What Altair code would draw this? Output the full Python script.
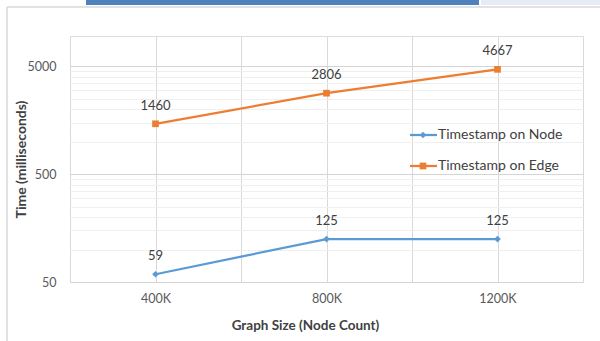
import altair as alt
import pandas as pd

categories = ["400K", "800K", "1200K"]
series_names = ["Timestamp on Node", "Timestamp on Edge"]
node_times = [59, 125, 125]
edge_times = [1460, 2806, 4667]
series_colors = ["#5B9BD5", "#ED7D31"]
series_shapes = ["diamond", "square"]
y_labels = [50, 500, 5000]
y_grid = [50, 100, 150, 200, 250, 300, 350, 400, 450,
          500, 1000, 1500, 2000, 2500, 3000, 3500, 4000, 4500,
          5000]
x_grid = [-0.5, 0, 0.5, 1, 1.5, 2, 2.5]

FONT = "Lato"

rows = []
for name, vals in zip(series_names, [node_times, edge_times]):
    for i, (c, v) in enumerate(zip(categories, vals)):
        rows.append({"category": c, "idx": i, "series": name, "time": v})
df = pd.DataFrame(rows)

label_expr = " : ".join(
    [f"datum.value == {i} ? '{c}'" for i, c in enumerate(categories)]) + " : ''"
major_test = " || ".join([f"datum.value == {v}" for v in y_labels])

x_enc = alt.X(
    "idx:Q",
    scale=alt.Scale(domain=[-0.5, 2.5], nice=False, zero=False),
    axis=alt.Axis(
        values=x_grid, labelExpr=label_expr, title="Graph Size (Node Count)",
        ticks=False, domain=False, grid=True, gridColor="#d9d9d9",
        labelFont=FONT, labelFontSize=12.5, labelColor="#595959", labelPadding=10,
        titleFont=FONT, titleFontSize=13.5, titleFontWeight="bold",
        titleColor="#404040", titlePadding=14, titleX=235, titleAlign="center",
    ),
)
y_enc = alt.Y(
    "time:Q",
    scale=alt.Scale(type="log", domain=[50, 9500], nice=False),
    axis=alt.Axis(
        values=y_grid,
        labelExpr=f"({major_test}) ? datum.value : ''",
        title="Time (milliseconds)", ticks=False, domain=False, grid=True,
        gridColor={"condition": {"test": major_test, "value": "#d4d4d4"},
                   "value": "#efefef"},
        labelFont=FONT, labelFontSize=12.5, labelColor="#595959", labelPadding=14,
        titleFont=FONT, titleFontSize=14, titleFontWeight="bold",
        titleColor="#404040", titleX=-49, titleY=123, titleAlign="center",
        titleBaseline="middle", titleAngle=270,
    ),
)
color_enc = alt.Color("series:N", scale=alt.Scale(domain=series_names, range=series_colors), legend=None)
shape_enc = alt.Shape("series:N", scale=alt.Scale(domain=series_names, range=series_shapes), legend=None)

base = alt.Chart(df)
lines = base.mark_line(strokeWidth=2.25).encode(x=x_enc, y=y_enc, color=color_enc, detail="series:N")
points = base.mark_point(filled=True, size=45, opacity=1).encode(x="idx:Q", y="time:Q", color=color_enc, shape=shape_enc)
labels = base.mark_text(dy=-18, font=FONT, fontSize=13, color="#404040").encode(
    x="idx:Q", y="time:Q", text="time:Q")

layers = [lines, points, labels]

# legend
for i, (name, col, shp) in enumerate(zip(series_names, series_colors, series_shapes)):
    ld = alt.Chart(pd.DataFrame({"series": [name]}))
    yv = 99 + 31 * i
    layers.append(ld.mark_rule(color=col, strokeWidth=2.25).encode(
        x=alt.value(340), x2=alt.value(367), y=alt.value(yv)))
    layers.append(ld.mark_point(filled=True, size=45, opacity=1, color=col, shape=shp).encode(
        x=alt.value(353), y=alt.value(yv)))
    layers.append(ld.mark_text(align="left", baseline="middle", font=FONT, fontSize=14,
                               color="#404040").encode(x=alt.value(368), y=alt.value(yv), text="series:N"))

# decorative frame / top banner
one = alt.Chart(pd.DataFrame({"a": [0]}))
layers.append(one.mark_rect(color="#4F81BD").encode(
    x=alt.value(16), x2=alt.value(409), y=alt.value(-36), y2=alt.value(-31)))
layers.append(one.mark_rect(color="#E6ECF5").encode(
    x=alt.value(411), x2=alt.value(530), y=alt.value(-36), y2=alt.value(-31)))
layers.append(one.mark_rule(color="#D9D9D9", strokeWidth=1.5).encode(
    x=alt.value(-63), x2=alt.value(530), y=alt.value(-29)))
layers.append(one.mark_rule(color="#D9D9D9", strokeWidth=1.5).encode(
    x=alt.value(-63), y=alt.value(-29), y2=alt.value(305)))

chart = alt.layer(*layers).properties(
    width=513, height=246,
    autosize=alt.AutoSizeParams(type="none"),
    padding={"left": 70, "top": 36, "right": 17, "bottom": 59},
).configure_view(stroke="#d9d9d9").configure(background="white")

chart.save("out.html", embed_options={"renderer": "svg", "actions": False})
